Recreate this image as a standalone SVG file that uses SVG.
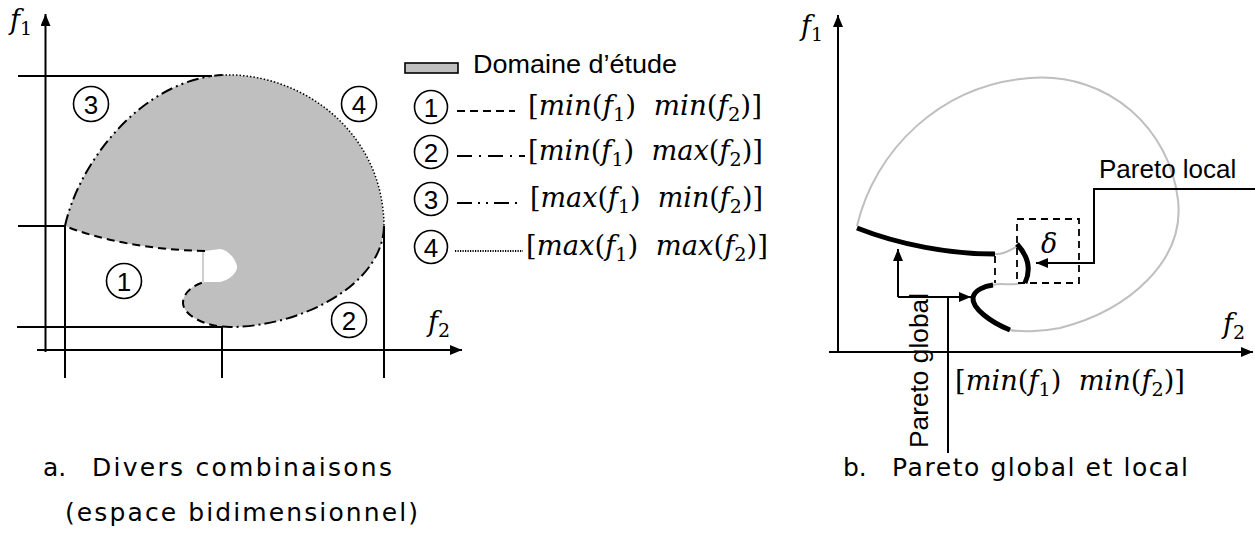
<svg xmlns="http://www.w3.org/2000/svg" width="1255" height="540" viewBox="0 0 1255 540">
<style>
.ln{stroke:#000;stroke-width:2;fill:none}
.ax{stroke:#000;stroke-width:2;fill:none}
.sans{font-family:"Liberation Sans",Arial,sans-serif;font-size:26px;fill:#000}
.cap{font-family:"DejaVu Sans",Verdana,sans-serif;font-size:25px;fill:#000}
.math{font-family:"DejaVu Serif","Liberation Serif",serif;font-size:27px;fill:#000}
.it{font-style:italic}
.sub{font-size:19px;font-style:normal}
.num{font-family:"Liberation Sans",Arial,sans-serif;font-size:26px;fill:#000;text-anchor:middle}
.circ{fill:none;stroke:#000;stroke-width:1.6}
.b1{stroke-dasharray:8,5}
.b2{stroke-dasharray:12,4,2,4}
.b3{stroke-dasharray:12,4,2,4,2,4}
.b4{stroke-dasharray:1.5,2;stroke-width:1.5}
.bold{stroke:#000;stroke-width:5;fill:none}
.grey{stroke:#bfbfbf;stroke-width:2;fill:none}
.dash{stroke:#000;stroke-width:1.8;fill:none;stroke-dasharray:7,5}
</style>
<defs>
<marker id="arr" viewBox="0 0 12 10" refX="12" refY="5" markerWidth="12" markerHeight="10" markerUnits="userSpaceOnUse" orient="auto">
<path d="M0,0 L12,5 L0,10 z" fill="#000"/>
</marker>
</defs>

<!-- ========== Panel a ========== -->
<g id="panel-a">
  <g id="a-shape">
    <path d="M65,226 C78,165 140,80 222,75 C300,72 383,130 384,226 C383,285 300,327 230,327 C205,327 183,315 183,303 C183,292 195,284 205,282 L220,282 C230,280 238,272 237,266 C235,258 228,250 220,249 L205,251 C150,250 100,240 65,226 Z" fill="#bfbfbf" stroke="none"/>
    <line x1="203" y1="251" x2="203" y2="282" stroke="#bfbfbf" stroke-width="1.5"/>
    <path class="ln b3" d="M65,226 C78,165 140,80 222,75"/>
    <path class="ln b4" d="M222,75 C300,72 383,130 384,226"/>
    <path class="ln b2" d="M384,226 C383,285 300,327 230,327"/>
    <path class="ln b1" d="M230,327 C205,327 183,315 183,303 C183,292 195,284 205,282"/>
    <path class="ln b1" d="M205,251 C150,250 100,240 65,226"/>
  </g>
  <g id="a-guides">
    <path class="ln" d="M18,76 H212"/>
    <path class="ln" d="M18,226 H65 V378"/>
    <path class="ln" d="M17,327 H222 V378"/>
    <path class="ln" d="M384,226 V378"/>
  </g>
  <g id="a-axes">
    <path class="ax" d="M45.5,352 V14" marker-end="url(#arr)"/>
    <path class="ax" d="M37,350 H462" marker-end="url(#arr)"/>
    <text class="math it" x="10" y="29">f<tspan class="sub" dy="6">1</tspan></text>
    <text class="math it" x="428" y="331">f<tspan class="sub" dy="6">2</tspan></text>
  </g>
  <g id="a-zone3"><circle class="circ" cx="91" cy="104" r="17.5"/><text class="num" x="91" y="113.5">3</text></g>
  <g id="a-zone4"><circle class="circ" cx="359" cy="104" r="17.5"/><text class="num" x="359" y="113.5">4</text></g>
  <g id="a-zone1"><circle class="circ" cx="124" cy="281" r="17.5"/><text class="num" x="124" y="290.5">1</text></g>
  <g id="a-zone2"><circle class="circ" cx="349" cy="320" r="17.5"/><text class="num" x="349" y="329.5">2</text></g>
</g>

<!-- ========== Legend ========== -->
<g id="legend">
  <g id="leg-domaine">
    <rect x="405" y="63" width="53" height="10" fill="#bfbfbf" stroke="#000" stroke-width="1.6"/>
    <text class="sans" x="473" y="73" textLength="204" lengthAdjust="spacingAndGlyphs">Domaine d’étude</text>
  </g>
  <g id="leg-1">
    <circle class="circ" cx="431" cy="107" r="16.5"/><text class="num" x="431" y="116.5">1</text>
    <line class="ln b1" x1="457" y1="111" x2="515" y2="111" stroke-width="1.5"/>
    <text class="math" x="528" y="115" textLength="234" lengthAdjust="spacingAndGlyphs">[<tspan class="it">min</tspan>(<tspan class="it">f</tspan><tspan class="sub" dy="6">1</tspan><tspan dy="-6">)&#160;&#160;</tspan><tspan class="it">min</tspan>(<tspan class="it">f</tspan><tspan class="sub" dy="6">2</tspan><tspan dy="-6">)]</tspan></text>
  </g>
  <g id="leg-2">
    <circle class="circ" cx="431" cy="152" r="16.5"/><text class="num" x="431" y="161.5">2</text>
    <line class="ln" x1="457" y1="156" x2="525" y2="156" stroke-width="1.5" stroke-dasharray="15,7,2,7"/>
    <text class="math" x="528" y="160" textLength="235" lengthAdjust="spacingAndGlyphs">[<tspan class="it">min</tspan>(<tspan class="it">f</tspan><tspan class="sub" dy="6">1</tspan><tspan dy="-6">)&#160;&#160;</tspan><tspan class="it">max</tspan>(<tspan class="it">f</tspan><tspan class="sub" dy="6">2</tspan><tspan dy="-6">)]</tspan></text>
  </g>
  <g id="leg-3">
    <circle class="circ" cx="431" cy="199" r="16.5"/><text class="num" x="431" y="208.5">3</text>
    <line class="ln" x1="457" y1="203" x2="518" y2="203" stroke-width="1.5" stroke-dasharray="15,6,2,6,2,6"/>
    <text class="math" x="530" y="207" textLength="233" lengthAdjust="spacingAndGlyphs">[<tspan class="it">max</tspan>(<tspan class="it">f</tspan><tspan class="sub" dy="6">1</tspan><tspan dy="-6">)&#160;&#160;</tspan><tspan class="it">min</tspan>(<tspan class="it">f</tspan><tspan class="sub" dy="6">2</tspan><tspan dy="-6">)]</tspan></text>
  </g>
  <g id="leg-4">
    <circle class="circ" cx="431" cy="247" r="16.5"/><text class="num" x="431" y="256.5">4</text>
    <line class="ln" x1="455" y1="251" x2="523" y2="251" stroke-width="1" stroke-dasharray="1.2,1.3"/>
    <text class="math" x="526" y="255" textLength="242" lengthAdjust="spacingAndGlyphs">[<tspan class="it">max</tspan>(<tspan class="it">f</tspan><tspan class="sub" dy="6">1</tspan><tspan dy="-6">)&#160;&#160;</tspan><tspan class="it">max</tspan>(<tspan class="it">f</tspan><tspan class="sub" dy="6">2</tspan><tspan dy="-6">)]</tspan></text>
  </g>
</g>

<!-- ========== Panel b ========== -->
<g id="panel-b">
  <g id="b-axes">
    <path class="ax" d="M838,352 V15" marker-end="url(#arr)"/>
    <path class="ax" d="M829,352 H1253" marker-end="url(#arr)"/>
    <text class="math it" x="801" y="35">f<tspan class="sub" dy="6">1</tspan></text>
    <text class="math it" x="1223" y="333">f<tspan class="sub" dy="6">2</tspan></text>
  </g>
  <g id="b-domain">
    <path class="grey" d="M857,226 C875,150 940,85 1030,78 C1110,72 1170,130 1178,200 C1185,260 1130,310 1060,328 C1040,332 1020,332 1010,330"/>
    <path class="grey" d="M993,285 C1003,282 1012,287 1025,282"/>
    <path class="grey" d="M995,254 C1003,255 1010,250 1018,246"/>
  </g>
  <g id="b-pareto-global">
    <path class="bold" d="M857,228 C900,245 950,254 995,254"/>
    <path class="bold" d="M1010,330 C990,322 972,308 973,298 C974,290 985,286 993,285"/>
  </g>
  <g id="b-pareto-local">
    <path class="bold" d="M1017,244 C1027,255 1032,268 1025,283"/>
  </g>
  <g id="b-delta-box">
    <rect class="dash" x="1017" y="219" width="62" height="64"/>
    <line class="dash" x1="995" y1="256" x2="995" y2="283"/>
    <text class="math it" x="1041" y="253">δ</text>
  </g>
  <g id="b-label-local">
    <text class="sans" x="1099" y="178">Pareto local</text>
  </g>
  <g id="b-label-global">
    <text class="sans" transform="translate(928,448) rotate(-90)" textLength="155" lengthAdjust="spacingAndGlyphs">Pareto global</text>
  </g>
  <g id="b-label-min">
    <text class="math" x="955" y="390" textLength="230" lengthAdjust="spacingAndGlyphs">[<tspan class="it">min</tspan>(<tspan class="it">f</tspan><tspan class="sub" dy="6">1</tspan><tspan dy="-6">)&#160;&#160;</tspan><tspan class="it">min</tspan>(<tspan class="it">f</tspan><tspan class="sub" dy="6">2</tspan><tspan dy="-6">)]</tspan></text>
  </g>
</g>

<!-- ========== Connectors ========== -->
<g id="connectors">
  <path class="ln" d="M1255,189 H1094 V263 H1036" marker-end="url(#arr)"/>
  <path class="ln" d="M898,297 V249" marker-end="url(#arr)"/>
  <path class="ln" d="M898,297 H971" marker-end="url(#arr)"/>
  <path class="ln" d="M948,297 V453"/>
</g>

<!-- ========== Captions ========== -->
<g id="caption-a">
  <text class="cap" x="43" y="476">a.</text>
  <text class="cap" x="92" y="476" textLength="300" lengthAdjust="spacing">Divers combinaisons</text>
  <text class="cap" x="65" y="521" textLength="353" lengthAdjust="spacing">(espace bidimensionnel)</text>
</g>
<g id="caption-b">
  <text class="cap" x="843" y="476">b.</text>
  <text class="cap" x="892" y="476" textLength="296" lengthAdjust="spacing">Pareto global et local</text>
</g>
</svg>
